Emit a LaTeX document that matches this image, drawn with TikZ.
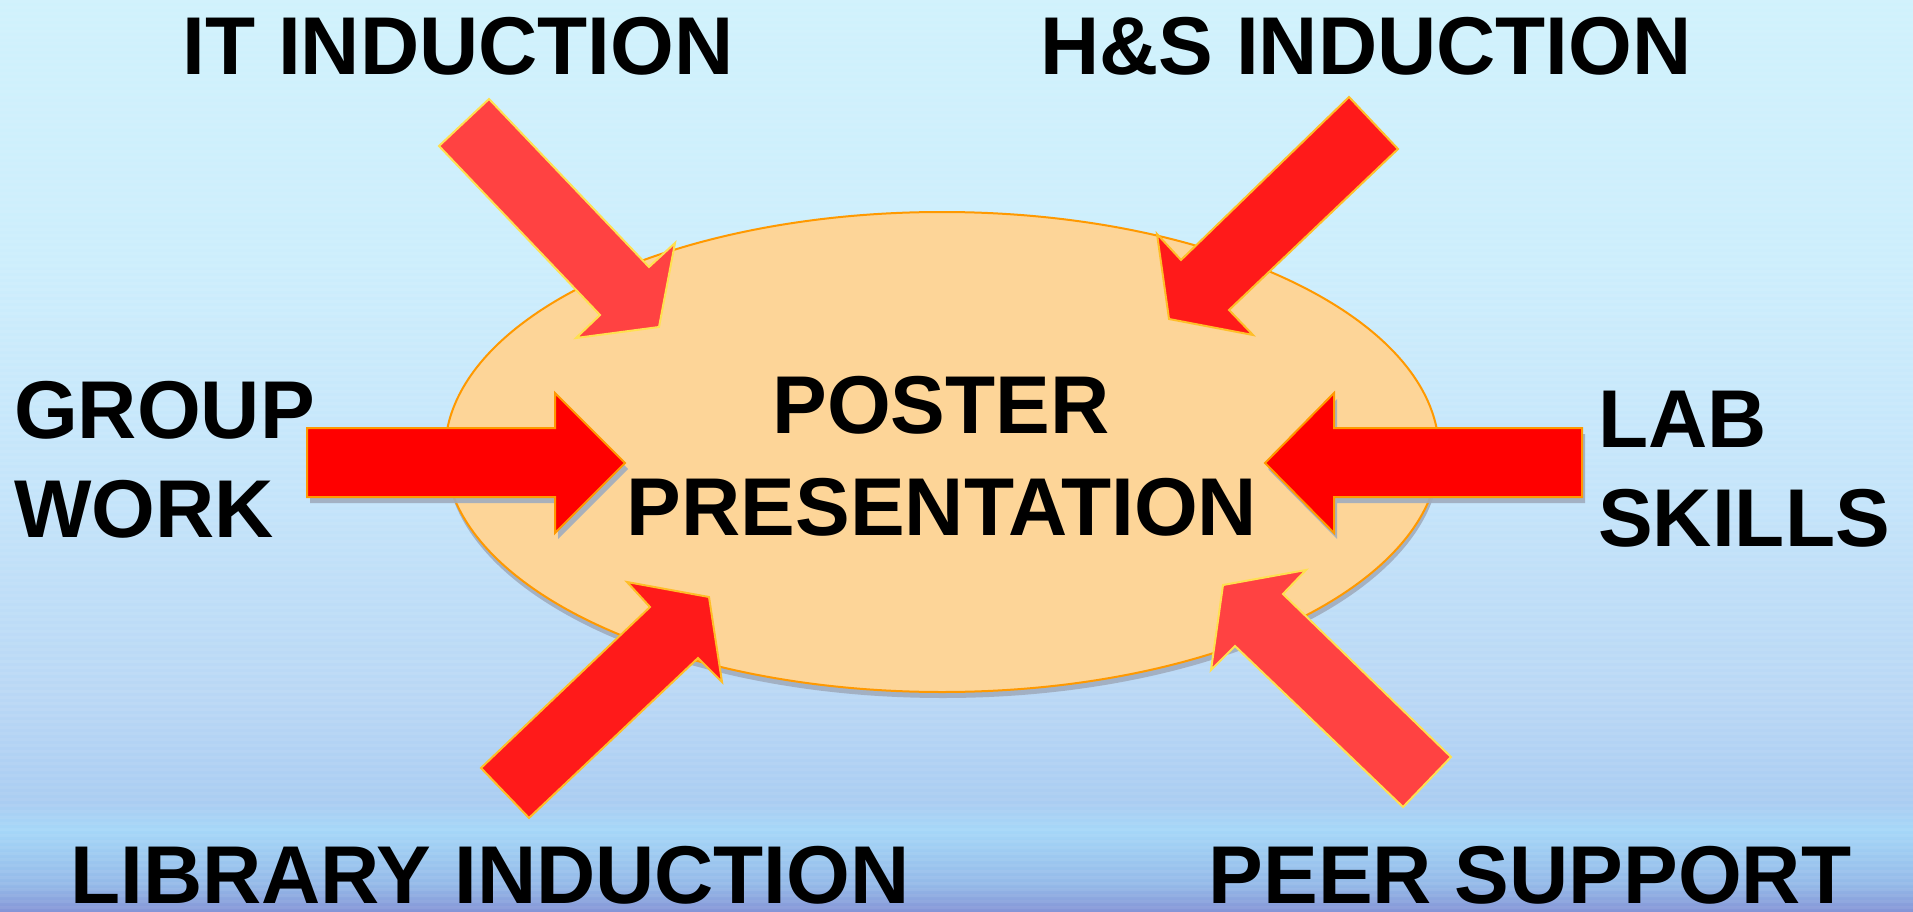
\documentclass[tikz,border=0pt]{standalone}
\usepackage{fontspec}
\setmainfont{Liberation Sans}
\usetikzlibrary{shapes.geometric,shadows}

\definecolor{bgtop}{RGB}{208,242,252}
\definecolor{bgupper}{RGB}{205,238,252}
\definecolor{bgmid}{RGB}{196,228,250}
\definecolor{bglow}{RGB}{185,215,245}
\definecolor{bgdeep}{RGB}{170,205,242}
\definecolor{bgband}{RGB}{165,215,248}
\definecolor{bgblue}{RGB}{148,185,232}
\definecolor{bgbot}{RGB}{132,148,214}
\definecolor{hubfill}{RGB}{253,213,152}
\definecolor{hubline}{RGB}{255,153,0}
\definecolor{softred}{RGB}{255,66,66}
\definecolor{deepred}{RGB}{255,26,26}
\definecolor{yellowline}{RGB}{255,224,80}
\definecolor{amberline}{RGB}{255,190,40}
\definecolor{shadegrey}{RGB}{160,172,190}

\pgfdeclareverticalshading{slidebg}{100bp}{color(0bp)=(bgbot); color(25bp)=(bgbot);
  color(26.5bp)=(bgblue); color(29.5bp)=(bgband); color(31bp)=(bgdeep);
  color(36.6bp)=(bglow); color(47.5bp)=(bgmid); color(61bp)=(bgupper);
  color(75bp)=(bgtop); color(100bp)=(bgtop)}

\tikzset{
  bigtext/.style={font=\fontsize{82}{98}\selectfont\bfseries, text=black, inner sep=0pt, anchor=base},
  hub/.style={ellipse, minimum width=994pt, minimum height=480pt, fill=hubfill, draw=hubline, line width=2pt,
    drop shadow={shadow xshift=1pt, shadow yshift=-6pt, fill=shadegrey, opacity=.9}},
  redblock/.style={fill=red, draw=hubline, line width=2pt,
    drop shadow={shadow xshift=3pt, shadow yshift=-6pt, fill=shadegrey, opacity=.9}},
  softblock/.style={fill=softred, draw=yellowline, line width=2pt, line join=miter},
  deepblock/.style={fill=deepred, draw=amberline, line width=2pt, line join=miter}
}

\begin{document}
\begin{tikzpicture}[x=1pt, y=-1pt]
  \useasboundingbox (0,0) rectangle (1913,912);
  \shade[shading=slidebg] (0,0) rectangle (1913,912);
  \foreach \y in {0,6,...,906}
    \fill[white, opacity=.06] (0,\y) rectangle (1913,\y+3);

  \node[hub] (hub) at (942,452) {};

  % block arrows into the hub
  \draw[softblock] (489,99) -- (649,267) -- (675,243) -- (659,327) -- (576,338) -- (600,315) -- (439,146) -- cycle;
  \draw[deepblock] (1349,97) -- (1398,149) -- (1229,310) -- (1253,335) -- (1169,319) -- (1157,234) -- (1181,260) -- cycle;
  \draw[redblock] (307,428) -- (555,428) -- (555,393) -- (625,463) -- (555,533) -- (555,497) -- (307,497) -- cycle;
  \draw[redblock] (1582,428) -- (1334,428) -- (1334,393) -- (1265,463) -- (1334,533) -- (1334,497) -- (1582,497) -- cycle;
  \draw[deepblock] (481,768) -- (650,607) -- (627,582) -- (709,597) -- (722,682) -- (698,658) -- (529,818) -- cycle;
  \draw[softblock] (1451,757) -- (1283,594) -- (1306,570) -- (1223,585) -- (1211,670) -- (1235,646) -- (1403,807) -- cycle;

  \node[bigtext] (poster) at (941,433) {POSTER};
  \node[bigtext] (presentation) at (942,535) {PRESENTATION};

  \node[bigtext] (it) at (458,75) {IT INDUCTION};
  \node[bigtext] (hs) at (1366,75) {H\&S INDUCTION};
  \node[bigtext, anchor=base west] (group) at (14,438) {GROUP};
  \node[bigtext, anchor=base west] (work) at (14,537) {WORK};
  \node[bigtext, anchor=base west] (lab) at (1598,447) {LAB};
  \node[bigtext, anchor=base west] (skills) at (1598,546) {SKILLS};
  \node[bigtext] (library) at (490,903) {LIBRARY INDUCTION};
  \node[bigtext] (peer) at (1530,903) {PEER SUPPORT};
\end{tikzpicture}
\end{document}
